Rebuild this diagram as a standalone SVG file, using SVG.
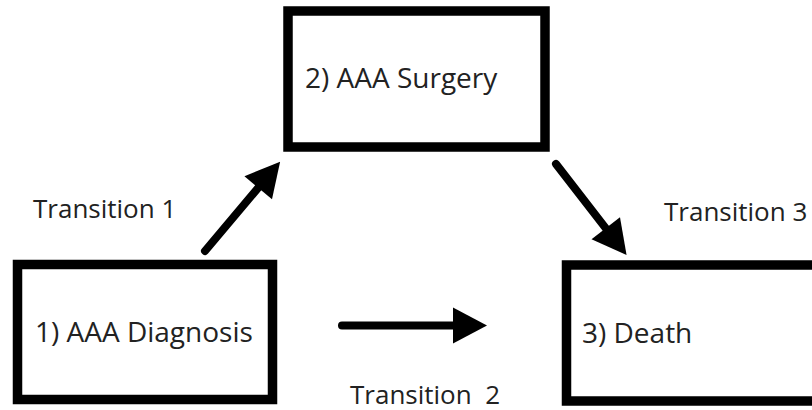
<svg xmlns="http://www.w3.org/2000/svg" width="812" height="410" viewBox="0 0 812 410">
<style>
.box{fill:#fff;stroke:#000;stroke-width:9.5}
.t{font-family:"Open Sans","Noto Sans",sans-serif;font-size:26px;fill:#222}
.n{font-size:28px}
.c{stroke:#000;stroke-width:8;stroke-linecap:round;fill:none}
</style>
<defs>
<marker id="ah" markerUnits="userSpaceOnUse" viewBox="0 0 34 36" refX="4" refY="18" markerWidth="34" markerHeight="36" orient="auto" overflow="visible">
<path d="M0,0 L34,18 L0,36 Z" fill="#000"/>
</marker>
</defs>
<rect width="812" height="410" fill="#fff"/>
<g id="connectors">
<line class="c" x1="205" y1="251" x2="260.8" y2="184.7" marker-end="url(#ah)"/>
<line class="c" x1="342" y1="325.5" x2="457" y2="325.5" marker-end="url(#ah)"/>
<line class="c" x1="556" y1="164" x2="608.2" y2="231.4" marker-end="url(#ah)"/>
</g>
<g id="node1">
<rect class="box" x="17.5" y="264.5" width="255" height="135"/>
<text class="t n" x="35" y="342">1) AAA Diagnosis</text>
</g>
<g id="node2">
<rect class="box" x="288" y="11" width="257" height="136"/>
<text class="t n" x="305" y="88">2) AAA Surgery</text>
</g>
<g id="node3">
<rect class="box" x="566.5" y="265" width="260" height="136"/>
<text class="t n" x="582" y="343">3) Death</text>
</g>
<g id="labels">
<text class="t" x="33" y="218">Transition 1</text>
<text class="t" x="350" y="404" xml:space="preserve">Transition  2</text>
<text class="t" x="664" y="221">Transition 3</text>
</g>
</svg>
